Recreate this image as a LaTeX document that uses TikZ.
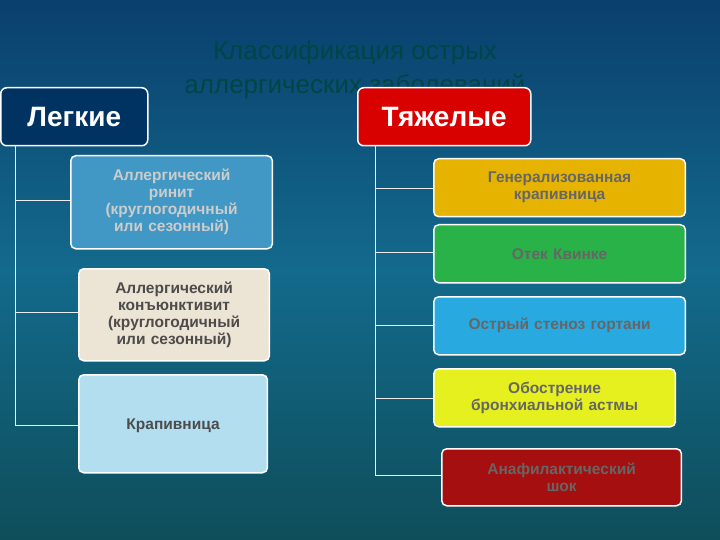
\documentclass[tikz,border=0pt]{standalone}
\usepackage{fontspec}
\setmainfont{Liberation Sans}
\definecolor{bgtop}{HTML}{0A3F6E}
\definecolor{bgmid}{HTML}{136A8C}
\definecolor{bgbot}{HTML}{0E4E5A}
\begin{document}
\begin{tikzpicture}[x=1pt,y=-1pt,
box/.style={draw=white,line width=1.5pt,rounded corners=5pt,anchor=north west,align=center,font=\fontsize{15.5}{17}\selectfont\bfseries},
head/.style={draw=white,line width=1.5pt,rounded corners=6pt,anchor=north west,font=\fontsize{28}{30}\selectfont\bfseries,text=white,inner sep=0pt},
tree/.style={draw=white!85!gray,line width=0.8pt}]
\shade[top color=bgtop, bottom color=bgbot, middle color=bgmid] (0,0) rectangle (720,540);
\useasboundingbox (0,0) rectangle (720,540);
\node[text=teal!55!black,font=\fontsize{26}{34}\selectfont,align=center] (title) at (355,70) {Классификация острых\\аллергических заболеваний};
\node[head,fill=black!70!blue!60!teal,minimum width=147pt,minimum height=58pt] (L) at (0,87) {Легкие};
\node[head,fill=red!85!black,minimum width=173pt,minimum height=58pt] (T) at (357,87) {Тяжелые};
\node[box,fill={rgb,255:red,66;green,152;blue,196},text=white!80!black,text width=195pt,minimum height=93pt] (a1) at (70,155) {Аллергический\\ринит\\(круглогодичный\\или сезонный)};
\node[box,fill={rgb,255:red,236;green,228;blue,212},text=black!70,text width=184pt,minimum height=92pt] (a2) at (78,268) {Аллергический\\конъюнктивит\\(круглогодичный\\или сезонный)};
\node[box,fill={rgb,255:red,178;green,222;blue,240},text=black!70,text width=182pt,minimum height=98pt,text depth=-30pt] (a3) at (78,374) {Крапивница};
\node[box,fill={rgb,255:red,230;green,180;blue,0},text=black!60,text width=245pt,minimum height=58pt] (b1) at (433,158) {Генерализованная\\крапивница};
\node[box,fill={rgb,255:red,40;green,178;blue,72},text=black!60,text width=245pt,minimum height=58pt,text depth=-14pt] (b2) at (433,224) {Отек Квинке};
\node[box,fill={rgb,255:red,40;green,170;blue,225},text=black!60,text width=245pt,minimum height=58pt] (b3) at (433,296) {Острый стеноз гортани};
\node[box,fill={rgb,255:red,230;green,240;blue,30},text=black!60,text width=235pt,minimum height=58pt] (b4) at (433,368) {Обострение\\бронхиальной астмы};
\node[box,fill={rgb,255:red,165;green,15;blue,15},text=black!60,text width=233pt,minimum height=57pt] (b5) at (441,448) {Анафилактический\\шок};
\coordinate (lt) at (15,145);
\draw[tree] (lt) -- (15,425) ;
\foreach \n/\y in {a1/200,a2/312,a3/425} \draw[tree] (15,\y) -- (\n.west|-0,\y);
\coordinate (rt) at (375,145);
\draw[tree] (rt) -- (375,475);
\foreach \n/\y in {b1/188,b2/252,b3/325,b4/398,b5/475} \draw[tree] (375,\y) -- (\n.west|-0,\y);
\end{tikzpicture}
\end{document}
